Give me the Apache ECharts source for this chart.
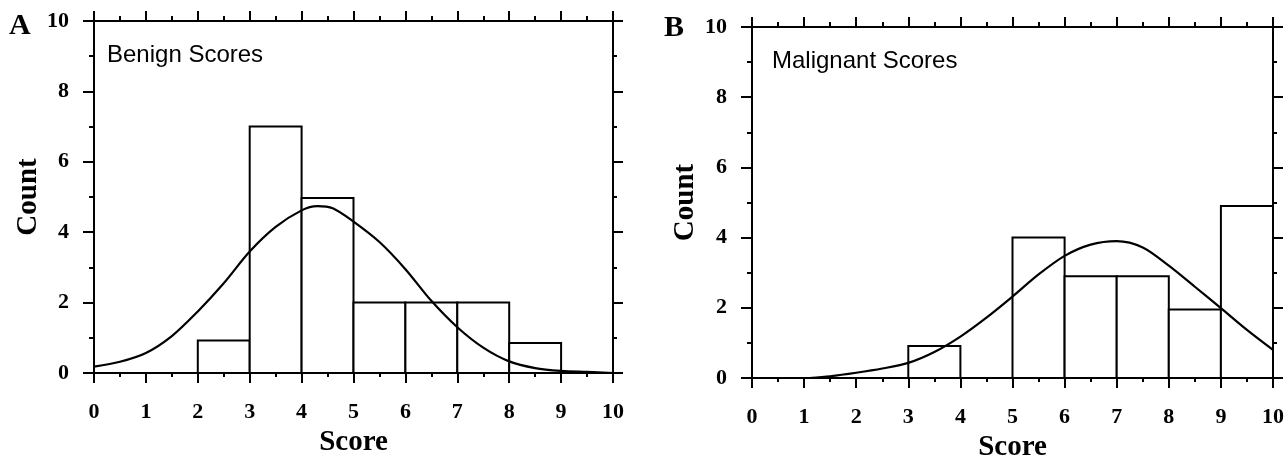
<!DOCTYPE html>
<html>
<head>
<meta charset="utf-8">
<script src="https://cdn.jsdelivr.net/npm/echarts@6/dist/echarts.min.js"></script>
<style>
html,body{margin:0;padding:0;background:#fff;}
#chart{width:1288px;height:457px;}
</style>
</head>
<body>
<div id="chart"></div>
<script>
// ---- data ----
const benignBinStart = [2, 3, 4, 5, 6, 7, 8];
const benignBinEnd   = [3, 4, 5, 6, 7, 8, 9];
const benignCounts   = [0.92, 7, 4.97, 2, 2, 2, 0.85];
const benignCurveX = [0, 0.5, 1, 1.5, 2, 2.5, 3, 3.5, 4, 4.3, 4.6, 5, 5.5, 6, 6.5, 7, 7.5, 8, 8.5, 9, 9.5, 10];
const benignCurveY = [0.18, 0.32, 0.57, 1.05, 1.75, 2.55, 3.45, 4.15, 4.62, 4.74, 4.68, 4.3, 3.72, 2.95, 2.05, 1.3, 0.72, 0.33, 0.14, 0.06, 0.03, 0];

const malignantBinStart = [3, 5, 6, 7, 8, 9];
const malignantBinEnd   = [4, 6, 7, 8, 9, 10];
const malignantCounts   = [0.91, 4, 2.9, 2.9, 1.95, 4.9];
const malignantCurveX = [1.1, 1.5, 2, 2.5, 3, 3.5, 4, 4.5, 5, 5.5, 6, 6.5, 7, 7.5, 8, 8.5, 9, 9.5, 10];
const malignantCurveY = [0, 0.05, 0.15, 0.27, 0.43, 0.74, 1.18, 1.72, 2.32, 2.95, 3.48, 3.8, 3.9, 3.72, 3.2, 2.6, 1.99, 1.37, 0.8];

const xMin = 0, xMax = 10, xStep = 1;
const yMin = 0, yMax = 10, yStep = 2;
const panelTitles = ['Benign Scores', 'Malignant Scores'];
const panelLetters = ['A', 'B'];
const xName = 'Score', yName = 'Count';

// ---- chart ----
const serif = "'Liberation Serif', 'DejaVu Serif', serif";
const sans = "'Liberation Sans', Arial, sans-serif";
const black = '#000';

const grids = [
  {left: 94, top: 21, width: 519, height: 352, outerBoundsMode: 'none', containLabel: false},
  {left: 752, top: 27, width: 521, height: 351, outerBoundsMode: 'none', containLabel: false}
];

function bottomX(gi) {
  return {
    type: 'value', gridIndex: gi, position: 'bottom', min: xMin, max: xMax, interval: xStep,
    name: xName, nameLocation: 'middle', nameGap: 50,
    nameTextStyle: {fontFamily: serif, fontWeight: 'bold', fontSize: 29, color: black},
    axisLine: {show: true, onZero: false, lineStyle: {color: black, width: 2}},
    axisTick: {show: true, inside: false, length: 10, lineStyle: {color: black, width: 2}},
    minorTick: {show: true, splitNumber: 2, length: 4, lineStyle: {color: black, width: 2}},
    axisLabel: {show: true, margin: 28, fontFamily: serif, fontWeight: 'bold', fontSize: 22, color: black},
    splitLine: {show: false}
  };
}
function topX(gi) {
  return {
    type: 'value', gridIndex: gi, position: 'top', min: xMin, max: xMax, interval: xStep,
    axisLine: {show: true, onZero: false, lineStyle: {color: black, width: 2}},
    axisTick: {show: true, inside: false, length: 10, lineStyle: {color: black, width: 2}},
    minorTick: {show: true, splitNumber: 2, length: 5, lineStyle: {color: black, width: 2}},
    axisLabel: {show: false}, splitLine: {show: false}
  };
}
function leftY(gi, gap) {
  return {
    type: 'value', gridIndex: gi, position: 'left', min: yMin, max: yMax, interval: yStep,
    name: yName, nameLocation: 'middle', nameGap: gap, nameRotate: 90,
    nameTextStyle: {fontFamily: serif, fontWeight: 'bold', fontSize: 29, color: black},
    axisLine: {show: true, onZero: false, lineStyle: {color: black, width: 2}},
    axisTick: {show: true, inside: false, length: 11, lineStyle: {color: black, width: 2}},
    minorTick: {show: true, splitNumber: 2, length: 5, lineStyle: {color: black, width: 2}},
    axisLabel: {show: true, margin: 25, fontFamily: serif, fontWeight: 'bold', fontSize: 22, color: black},
    splitLine: {show: false}
  };
}
function rightY(gi) {
  return {
    type: 'value', gridIndex: gi, position: 'right', min: yMin, max: yMax, interval: yStep,
    axisLine: {show: true, onZero: false, lineStyle: {color: black, width: 2}},
    axisTick: {show: true, inside: false, length: 10, lineStyle: {color: black, width: 2}},
    minorTick: {show: true, splitNumber: 2, length: 4, lineStyle: {color: black, width: 2}},
    axisLabel: {show: false}, splitLine: {show: false}
  };
}

function histSeries(axisIdx, starts, ends, counts) {
  return {
    type: 'custom', xAxisIndex: axisIdx, yAxisIndex: axisIdx, z: 2,
    data: starts.map((s, i) => [s, ends[i], counts[i]]),
    encode: {x: [0, 1], y: 2},
    renderItem: function (params, api) {
      const p0 = api.coord([api.value(0), api.value(2)]);
      const p1 = api.coord([api.value(1), 0]);
      return {
        type: 'rect',
        shape: {x: p0[0], y: p0[1], width: p1[0] - p0[0], height: p1[1] - p0[1]},
        style: {fill: '#fff', stroke: black, lineWidth: 2}
      };
    }
  };
}
function curveSeries(axisIdx, xs, ys) {
  return {
    type: 'line', xAxisIndex: axisIdx, yAxisIndex: axisIdx, z: 3,
    data: xs.map((x, i) => [x, ys[i]]),
    smooth: 0.3, showSymbol: false, symbol: 'none',
    lineStyle: {color: black, width: 2.2}
  };
}

const option = {
  animation: false,
  backgroundColor: '#fff',
  grid: grids,
  // xAxis 0,1: bottom axes of panels A,B ; 2,3: top axes
  xAxis: [bottomX(0), bottomX(1), topX(0), topX(1)],
  yAxis: [leftY(0, 50), leftY(1, 52), rightY(0), rightY(1)],
  graphic: [
    {type: 'text', left: 9, top: 11, style: {text: panelLetters[0], font: "bold 30px " + serif, fill: black}},
    {type: 'text', left: 664, top: 13, style: {text: panelLetters[1], font: "bold 30px " + serif, fill: black}},
    {type: 'text', left: 107, top: 43, style: {text: panelTitles[0], font: "24px " + sans, fill: black}},
    {type: 'text', left: 772, top: 49, style: {text: panelTitles[1], font: "24px " + sans, fill: black}}
  ],
  series: [
    histSeries(0, benignBinStart, benignBinEnd, benignCounts),
    curveSeries(0, benignCurveX, benignCurveY),
    histSeries(1, malignantBinStart, malignantBinEnd, malignantCounts),
    curveSeries(1, malignantCurveX, malignantCurveY)
  ]
};

const chart = echarts.init(document.getElementById('chart'), null, {renderer: 'canvas'});
chart.setOption(option);
</script>
</body>
</html>
